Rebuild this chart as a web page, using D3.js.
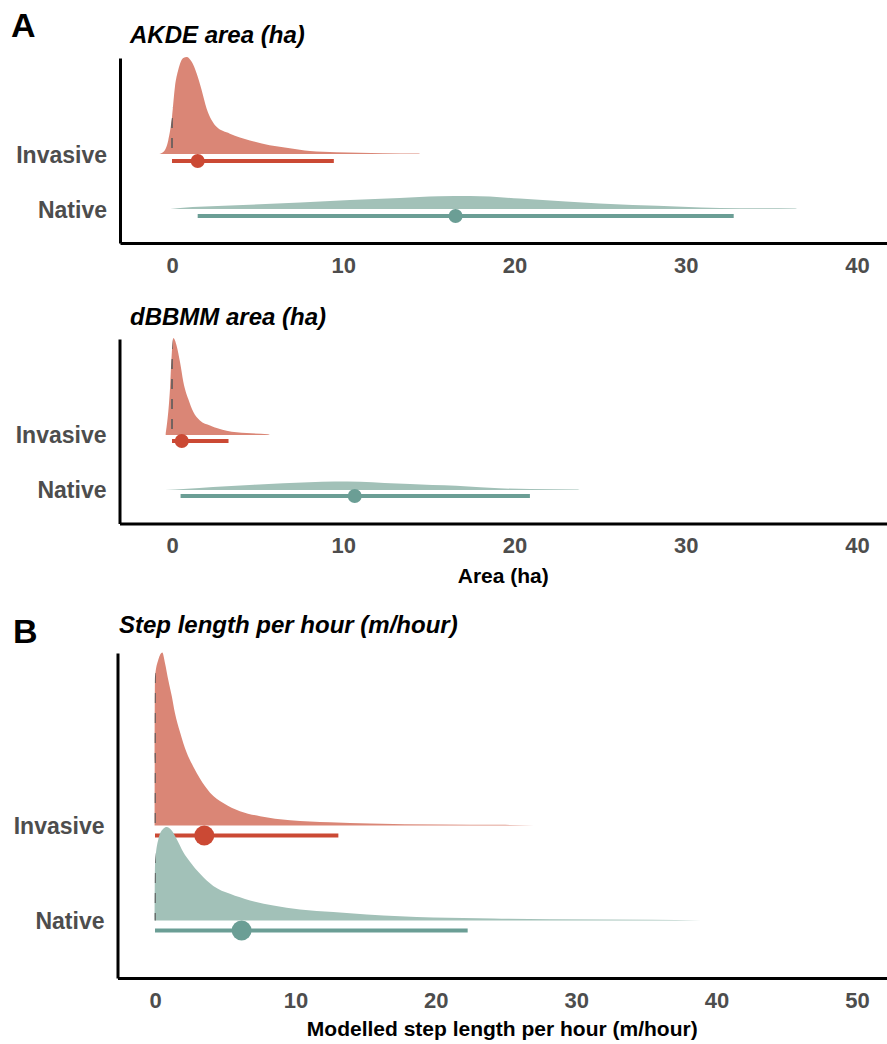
<!DOCTYPE html>
<html><head><meta charset="utf-8">
<script src="https://cdn.jsdelivr.net/npm/d3@7"></script>
<style>body{margin:0;background:#fff} svg{display:block}</style>
</head><body>
<svg id="chart" width="887" height="1044"></svg>
<script>
// ---------------- DATA ----------------
const groups = ["Invasive", "Native"];
const areaTicks = [0, 10, 20, 30, 40];
const stepTicks = [0, 10, 20, 30, 40, 50];

// AKDE area (ha) – slab density (relative)
const akdeInvasiveX = [-0.74, -0.51, -0.22, 0.0, 0.17, 0.37, 0.66, 0.86, 1.15, 1.44, 1.73, 2.02, 2.31, 2.6, 3.38, 4.55, 5.7, 6.88, 8.05, 9.6, 12.3, 14.4, 14.5];
const akdeInvasiveD = [0, 0.02, 0.14, 0.38, 0.69, 0.87, 0.99, 1.0, 0.95, 0.83, 0.66, 0.47, 0.35, 0.28, 0.21, 0.14, 0.09, 0.06, 0.03, 0.018, 0.008, 0.005, 0];
const akdeNativeX = [-0.1, 0.47, 3.4, 7.5, 10.4, 13.3, 15.6, 17.4, 20.3, 23.0, 26.9, 29.8, 32.0, 34.3, 36.4, 36.5];
const akdeNativeD = [0, 0.01, 0.036, 0.067, 0.093, 0.113, 0.132, 0.134, 0.108, 0.077, 0.041, 0.024, 0.011, 0.007, 0.005, 0];
const akdeLower = [0, 1.5];
const akdePoint = [1.5, 16.56];
const akdeUpper = [9.45, 32.8];

// dBBMM area (ha)
const dbbmmInvasiveX = [-0.37, -0.12, -0.02, 0.08, 0.27, 0.47, 0.66, 0.95, 1.24, 1.63, 2.22, 3.19, 4.36, 5.6, 5.71];
const dbbmmInvasiveD = [0, 0.47, 0.82, 1.0, 0.92, 0.75, 0.55, 0.37, 0.24, 0.15, 0.098, 0.044, 0.02, 0.008, 0];
const dbbmmNativeX = [-0.4, 0.2, 1.6, 3.2, 4.8, 6.5, 8.0, 9.5, 11.0, 12.4, 13.9, 15.2, 16.6, 18.0, 19.1, 20.9, 23.7, 23.8];
const dbbmmNativeD = [0, 0.005, 0.02, 0.038, 0.055, 0.069, 0.080, 0.088, 0.085, 0.072, 0.062, 0.052, 0.044, 0.029, 0.018, 0.010, 0.004, 0];
const dbbmmLower = [0, 0.5];
const dbbmmPoint = [0.57, 10.67];
const dbbmmUpper = [3.3, 20.9];

// Step length per hour (m/hour)
const stepInvasiveX = [-0.03, 0.0, 0.24, 0.52, 0.71, 0.95, 1.19, 1.42, 1.78, 2.26, 2.73, 3.21, 3.92, 4.86, 6.05, 7.48, 9.62, 12.46, 15.31, 20.3, 24.6, 27.0];
const stepInvasiveD = [0, 0.86, 0.96, 1.0, 0.94, 0.84, 0.75, 0.65, 0.54, 0.42, 0.34, 0.27, 0.19, 0.13, 0.083, 0.054, 0.031, 0.019, 0.012, 0.006, 0.004, 0];
const stepNativeX = [-0.03, 0.0, 0.24, 0.59, 0.83, 1.19, 1.55, 2.02, 2.49, 3.21, 4.15, 5.34, 6.77, 8.43, 10.33, 12.70, 15.08, 17.45, 19.82, 24.07, 28.1, 35.3, 38.9];
const stepNativeD = [0, 0.32, 0.47, 0.53, 0.54, 0.52, 0.47, 0.395, 0.34, 0.27, 0.20, 0.154, 0.116, 0.087, 0.064, 0.049, 0.035, 0.025, 0.018, 0.012, 0.007, 0.004, 0];
const stepLower = [0, 0];
const stepPoint = [3.51, 6.17];
const stepUpper = [13.06, 22.27];

// ---------------- STYLE / LAYOUT ----------------
const slabColors = {Invasive: "#DA8676", Native: "#A2C1B8"};
const lineColors = {Invasive: "#CB4934", Native: "#6B9E95"};
const FONT = "'Liberation Sans', Arial, Helvetica, sans-serif";

const panels = [
  {id: "akde", title: "AKDE area (ha)", titleX: 130, titleY: 43,
   slabs: [[akdeInvasiveX, akdeInvasiveD], [akdeNativeX, akdeNativeD]],
   lower: akdeLower, point: akdePoint, upper: akdeUpper, ticks: areaTicks,
   x0: 172, xMax: 40, xMaxPx: 857, left: 120, right: 887, axisY: 243, top: 58,
   step: 55, slabScale: 97, base: -1, ivOff: 6, r: 7, axisTitle: null},
  {id: "dbbmm", title: "dBBMM area (ha)", titleX: 130, titleY: 325,
   slabs: [[dbbmmInvasiveX, dbbmmInvasiveD], [dbbmmNativeX, dbbmmNativeD]],
   lower: dbbmmLower, point: dbbmmPoint, upper: dbbmmUpper, ticks: areaTicks,
   x0: 172, xMax: 40, xMaxPx: 857, left: 119.5, right: 887, axisY: 523.5, top: 339,
   step: 55, slabScale: 97, base: -0.5, ivOff: 5.5, r: 7,
   axisTitle: "Area (ha)", axisTitleY: 583},
  {id: "step", title: "Step length per hour (m/hour)", titleX: 119, titleY: 633,
   slabs: [[stepInvasiveX, stepInvasiveD], [stepNativeX, stepNativeD]],
   lower: stepLower, point: stepPoint, upper: stepUpper, ticks: stepTicks,
   x0: 155, xMax: 50, xMaxPx: 857, left: 117.5, right: 887, axisY: 978, top: 653,
   step: 95, slabScale: 173, base: -0.5, ivOff: 9.5, r: 10,
   axisTitle: "Modelled step length per hour (m/hour)", axisTitleY: 1036}
];

const svg = d3.select("#chart");
svg.append("rect").attr("width", 887).attr("height", 1044).attr("fill", "#fff");

function drawPanel(p) {
  const g = svg.append("g").attr("class", "panel-" + p.id);
  const base = d3.scaleLinear().domain([0, p.xMax]).range([p.x0, p.xMaxPx]);
  const x = d3.scaleLinear().domain([base.invert(p.left), base.invert(p.right)]).range([p.left, p.right]);
  const yTopVal = 0.4 + (p.axisY - p.top) / p.step;
  const y = d3.scaleLinear().domain([0.4, yTopVal]).range([p.axisY, p.top]);
  const rowVal = name => groups.length - groups.indexOf(name); // Invasive=2, Native=1

  groups.forEach((name, i) => {
    const rowY = y(rowVal(name));
    const baseY = rowY + p.base;
    const pts = p.slabs[i][0].map((v, k) => ({x: v, d: p.slabs[i][1][k]}));
    const area = d3.area()
      .x(d => x(d.x))
      .y0(baseY)
      .y1(d => baseY - d.d * p.slabScale)
      .curve(d3.curveMonotoneX);
    const clipId = "clip-" + p.id + "-" + i;
    g.append("clipPath").attr("id", clipId).append("path").attr("d", area(pts));
    g.append("path").attr("d", area(pts)).attr("fill", slabColors[name]);
    // dashed reference line at 0 (only visible through slab)
    g.append("line")
      .attr("clip-path", "url(#" + clipId + ")")
      .attr("x1", x(0)).attr("x2", x(0))
      .attr("y1", p.top).attr("y2", p.axisY)
      .attr("stroke", "#5a5a5a").attr("stroke-width", 1.6)
      .attr("stroke-dasharray", "10,10");
    // interval
    const iy = rowY + p.ivOff;
    g.append("line")
      .attr("x1", x(p.lower[i])).attr("x2", x(p.upper[i]))
      .attr("y1", iy).attr("y2", iy)
      .attr("stroke", lineColors[name]).attr("stroke-width", 4);
    g.append("circle")
      .attr("cx", x(p.point[i])).attr("cy", iy).attr("r", p.r)
      .attr("fill", lineColors[name]);
  });

  // x axis
  const xa = g.append("g").attr("transform", `translate(0,${p.axisY})`)
    .call(d3.axisBottom(x).tickValues(p.ticks).tickSize(0).tickSizeOuter(0).tickPadding(14).tickFormat(d3.format("d")));
  xa.select(".domain").attr("stroke", "#000").attr("stroke-width", 3);
  xa.selectAll("text").attr("font-family", FONT).attr("font-size", 22)
    .attr("font-weight", "bold").attr("fill", "#4d4d4d");

  // y axis
  const ya = g.append("g").attr("transform", `translate(${p.left},0)`)
    .call(d3.axisLeft(y).tickValues(groups.map(rowVal)).tickSize(0).tickSizeOuter(0).tickPadding(13)
      .tickFormat(v => groups[groups.length - v]));
  ya.select(".domain").attr("stroke", "#000").attr("stroke-width", 3);
  ya.selectAll("text").attr("font-family", FONT).attr("font-size", 23)
    .attr("font-weight", "bold").attr("fill", "#4d4d4d");

  // title
  g.append("text").attr("x", p.titleX).attr("y", p.titleY)
    .attr("font-family", FONT).attr("font-size", 24).attr("font-weight", "bold")
    .attr("font-style", "italic").attr("fill", "#000").text(p.title);

  if (p.axisTitle) {
    g.append("text").attr("x", (p.left + p.right) / 2).attr("y", p.axisTitleY)
      .attr("text-anchor", "middle")
      .attr("font-family", FONT).attr("font-size", 21).attr("font-weight", "bold")
      .attr("fill", "#000").text(p.axisTitle);
  }
}

panels.forEach(drawPanel);

// panel tags
svg.append("text").attr("x", 11).attr("y", 37).attr("font-family", FONT)
  .attr("font-size", 34).attr("font-weight", "bold").text("A");
svg.append("text").attr("x", 13).attr("y", 643).attr("font-family", FONT)
  .attr("font-size", 34).attr("font-weight", "bold").text("B");
</script>
</body></html>
